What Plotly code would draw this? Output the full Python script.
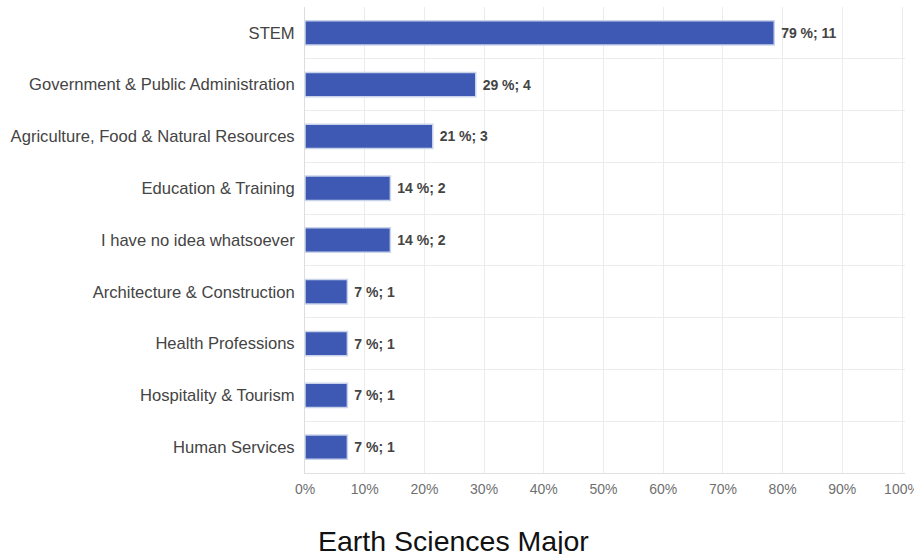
import plotly.graph_objects as go

categories = [
    "STEM",
    "Government & Public Administration",
    "Agriculture, Food & Natural Resources",
    "Education & Training",
    "I have no idea whatsoever",
    "Architecture & Construction",
    "Health Professions",
    "Hospitality & Tourism",
    "Human Services",
]
percent_values = [78.6, 28.6, 21.4, 14.3, 14.3, 7.1, 7.1, 7.1, 7.1]
counts = [11, 4, 3, 2, 2, 1, 1, 1, 1]
percent_labels = [79, 29, 21, 14, 14, 7, 7, 7, 7]
x_ticks = [0, 10, 20, 30, 40, 50, 60, 70, 80, 90, 100]
x_tick_labels = ["0%", "10%", "20%", "30%", "40%", "50%", "60%", "70%", "80%", "90%", "100%"]
title_text = "Earth Sciences Major"

bar_text = [f"<b> {p} %; {c}</b>" for p, c in zip(percent_labels, counts)]

fig = go.Figure(go.Bar(
    y=categories,
    x=percent_values,
    orientation="h",
    marker=dict(color="#3d59b4", line=dict(color="#c9d3ea", width=1.5)),
    text=bar_text,
    textposition="outside",
    textfont=dict(family="Arial, Liberation Sans, sans-serif", size=14, color="#444444"),
    cliponaxis=False,
    width=0.47,
))

fig.update_layout(
    width=914, height=554,
    margin=dict(l=305, r=9, t=7, b=81, autoexpand=False),
    paper_bgcolor="white", plot_bgcolor="white",
    font=dict(family="Arial, Liberation Sans, sans-serif"),
    showlegend=False,
    xaxis=dict(
        range=[0, 100.5], tickvals=x_ticks, ticktext=x_tick_labels,
        showgrid=True, gridcolor="#ececec", gridwidth=1,
        zeroline=False, showline=True, linecolor="#e0e0e0",
        tickfont=dict(size=14, color="#707070"), ticks="", ticklen=0,
        ticklabeloverflow="allow", automargin=False, ticklabelstandoff=3,
    ),
    yaxis=dict(
        categoryorder="array", categoryarray=categories, autorange="reversed",
        tickson="boundaries", showgrid=True, gridcolor="#ececec",
        showline=True, linecolor="#dddddd", ticks="",
        tickfont=dict(size=16.6, color="#444444"), ticklabelstandoff=6,
        automargin=False,
    ),
    annotations=[dict(
        text=title_text, xref="paper", yref="paper",
        x=0.247, y=-0.146, xanchor="center", yanchor="middle",
        showarrow=False, font=dict(size=28.5, color="#111111"),
    )],
)

fig.write_html("out.html", config={"displayModeBar": False},
               post_script="document.body.style.margin='0';")
